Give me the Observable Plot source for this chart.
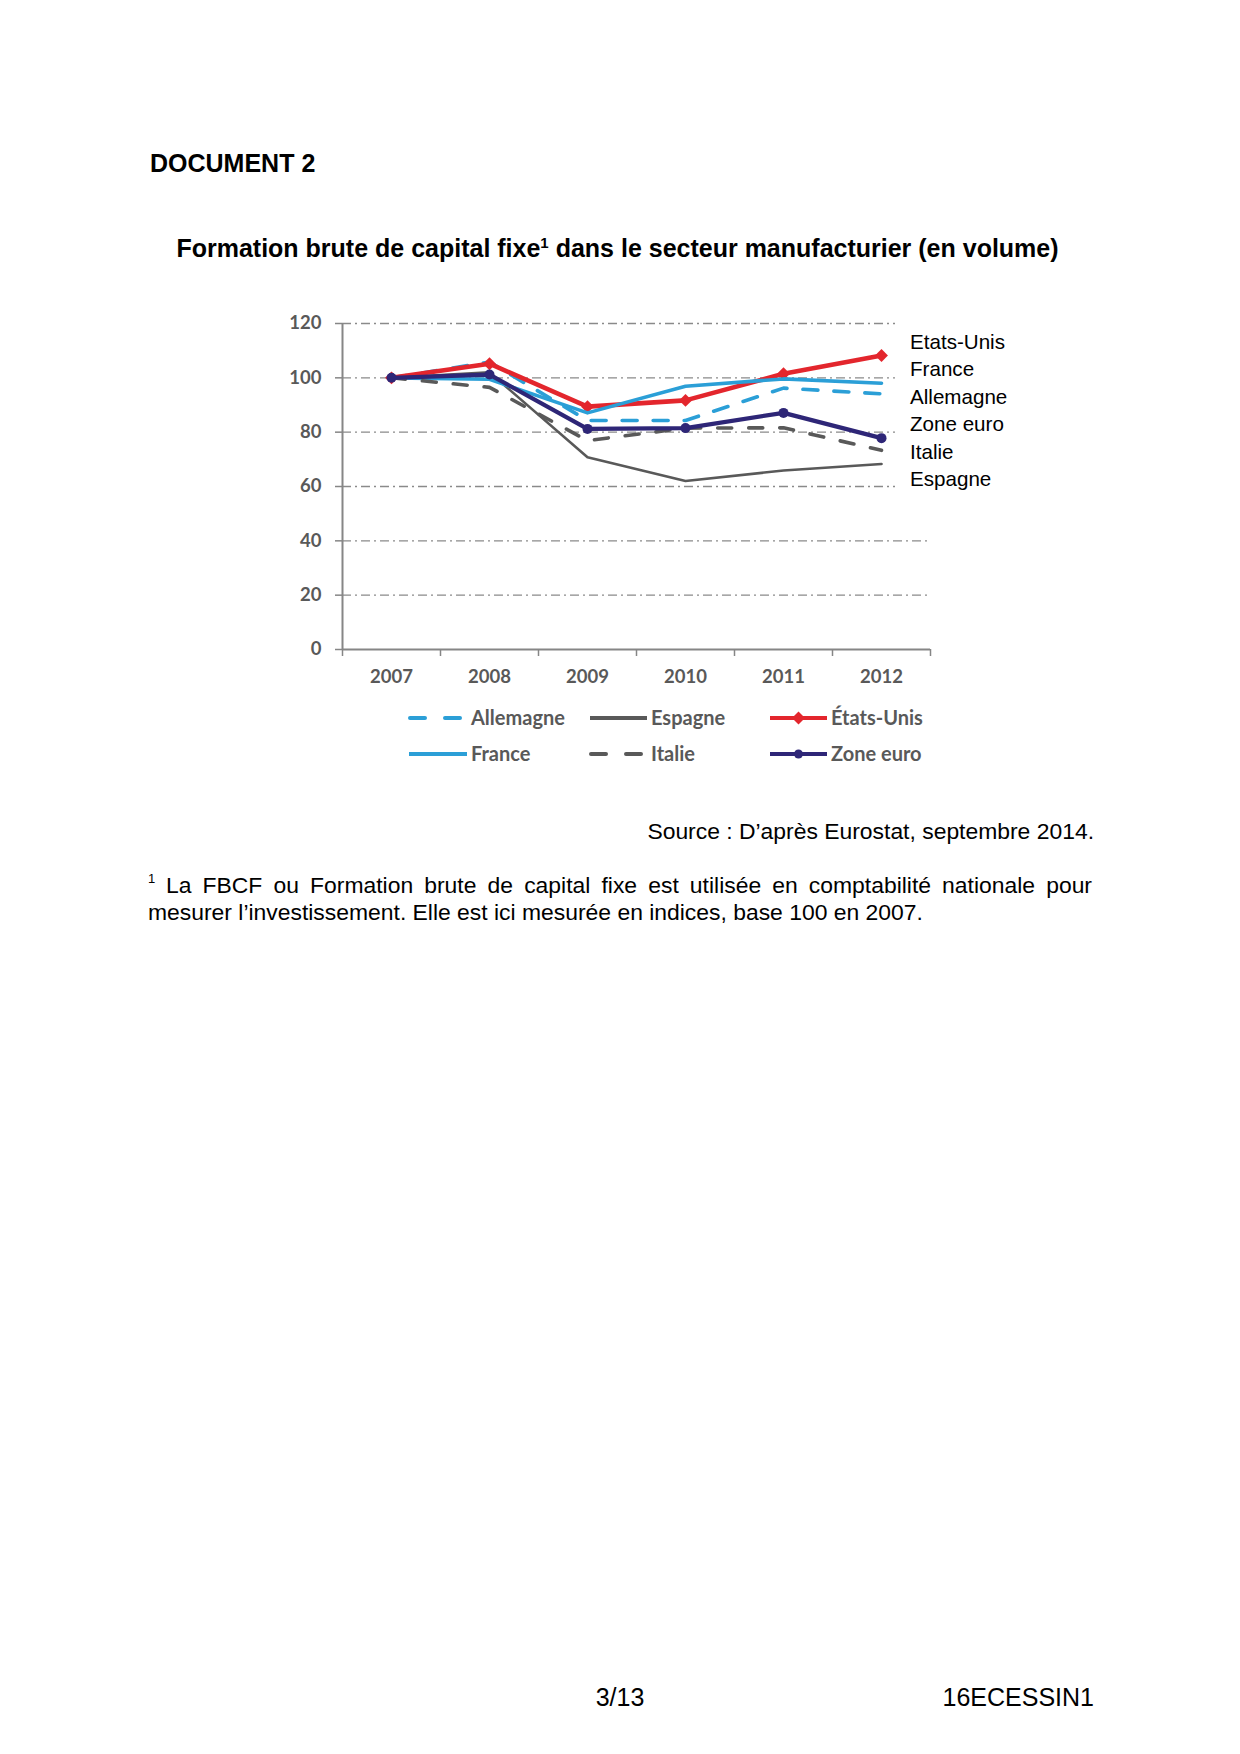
<!DOCTYPE html>
<html>
<head>
<meta charset="utf-8">
<script src="https://cdn.jsdelivr.net/npm/d3@7"></script>
<script src="https://cdn.jsdelivr.net/npm/@observablehq/plot@0.6"></script>
<style>
  html, body { margin: 0; padding: 0; background: #fff; }
  #page { position: relative; width: 1240px; height: 1754px; font-family: "Liberation Sans", Arial, Helvetica, sans-serif; color: #000; overflow: hidden; }
  .abs { position: absolute; white-space: nowrap; line-height: 1; }
  .sup { font-size: 0.6em; position: relative; top: -0.62em; }
  #chart { position: absolute; left: 277px; top: 293px; }
  #labels { position: absolute; left: 895px; top: 320px; width: 140px; height: 175px; background: #fff; padding-left: 15px; box-sizing: border-box; font-size: 20.6px; }
  #labels div { line-height: 27.5px; height: 27.5px; white-space: nowrap; }
  #labels .first { margin-top: 7.5px; }
  .leg { position: absolute; font-family: Lato, "Open Sans", sans-serif; font-weight: 700; font-size: 20px; color: #595959; line-height: 22px; white-space: nowrap; }
  .sw { position: absolute; }
  #foot1 { position: absolute; left: 166px; top: 874.3px; width: 926px; font-size: 22.9px; line-height: 1; white-space: nowrap; text-align: justify; text-align-last: justify; }
  #foot2 { position: absolute; left: 148px; top: 901.2px; font-size: 22.9px; line-height: 1; white-space: nowrap; }
  #fn { position: absolute; left: 148px; top: 872px; font-size: 13px; line-height: 1; }
</style>
</head>
<body>
<div id="page">
  <div class="abs" style="left:150px; top:150.5px; font-size:25px; font-weight:bold;">DOCUMENT 2</div>
  <div class="abs" style="left:0; width:1235px; text-align:center; top:236px; font-size:25px; font-weight:bold;">Formation brute de capital fixe<span class="sup">1</span> dans le secteur manufacturier (en volume)</div>
  <div id="chart"></div>
  <div id="labels"></div>
  <div id="legend"></div>
  <div class="abs" style="right:146px; top:819.5px; font-size:22.9px;">Source : D’après Eurostat, septembre 2014.</div>
  <div id="fn">1</div>
  <div id="foot1">La FBCF ou Formation brute de capital fixe est utilisée en comptabilité nationale pour</div>
  <div id="foot2">mesurer l’investissement. Elle est ici mesurée en indices, base 100 en 2007.</div>
  <div class="abs" style="left:0; width:1240px; text-align:center; top:1684.8px; font-size:25px;">3/13</div>
  <div class="abs" style="right:146px; top:1684.8px; font-size:25px;">16ECESSIN1</div>
</div>
<script>
// ---------- Data ----------
const years = [2007, 2008, 2009, 2010, 2011, 2012];
const yTicks = [0, 20, 40, 60, 80, 100, 120];
const seriesNames = ["Allemagne", "Espagne", "États-Unis", "France", "Italie", "Zone euro"];
const allemagne = [100, 105.8, 84.3, 84.3, 96.2, 94.1];
const espagne   = [100, 102.0, 70.8, 62.0, 65.9, 68.3];
const etatsUnis = [100, 105.2, 89.4, 91.7, 101.5, 108.2];
const france    = [100, 99.5, 87.1, 96.9, 99.6, 98.0];
const italie    = [100, 96.5, 76.9, 81.5, 81.6, 73.3];
const zoneEuro  = [100, 101.2, 81.2, 81.5, 87.1, 77.8];
const rightLabels = ["Etats-Unis", "France", "Allemagne", "Zone euro", "Italie", "Espagne"];
const legendRows = [["Allemagne", "Espagne", "États-Unis"], ["France", "Italie", "Zone euro"]];

// ---------- Styles ----------
const BLUE = "#2b9fd7", RED = "#e3262d", NAVY = "#2e2677", GRAY = "#595959", AXIS = "#868686";
const styles = {
  "Allemagne":  {stroke: BLUE, width: 3.6, dash: "15,16"},
  "Espagne":    {stroke: GRAY, width: 2.6, dash: null},
  "États-Unis": {stroke: RED,  width: 4.6, dash: null, marker: "diamond2", r: 5.8},
  "France":     {stroke: BLUE, width: 3.6, dash: null},
  "Italie":     {stroke: GRAY, width: 3.6, dash: "14,17"},
  "Zone euro":  {stroke: NAVY, width: 4.2, dash: null, marker: "circle", r: 5}
};
const valuesByName = {"Allemagne": allemagne, "Espagne": espagne, "États-Unis": etatsUnis, "France": france, "Italie": italie, "Zone euro": zoneEuro};

const rows = seriesNames.flatMap(n => years.map((y, j) => ({serie: n, year: y, value: valuesByName[n][j]})));
const boundaries = [years[0] - 0.5, ...years.map(y => y + 0.5)];

const marks = [
  Plot.ruleY(yTicks.filter(d => d > 0), {stroke: "#8a8a8a", strokeWidth: 1.3, strokeDasharray: "9,4,2,4"}),
  Plot.ruleX([boundaries[0]], {y1: 0, y2: yTicks[yTicks.length - 1], stroke: AXIS, strokeWidth: 2}),
  Plot.ruleY([0], {x1: boundaries[0], x2: boundaries[boundaries.length - 1], stroke: AXIS, strokeWidth: 2}),
  Plot.axisY({ticks: yTicks, tickSize: 7, tickPadding: 14, stroke: AXIS, strokeWidth: 1.5, fill: GRAY, label: null}),
  Plot.axisX({ticks: boundaries, tickSize: 7, tickFormat: () => "", stroke: AXIS, strokeWidth: 1.5, label: null}),
  Plot.axisX({ticks: years, tickSize: 0, tickPadding: 20, tickFormat: d => String(d), fill: GRAY, label: null})
];
for (const n of seriesNames) {
  const s = styles[n];
  const data = rows.filter(d => d.serie === n);
  marks.push(Plot.line(data, {x: "year", y: "value", stroke: s.stroke, strokeWidth: s.width,
    strokeDasharray: s.dash || undefined, strokeLinecap: "round", strokeLinejoin: "round"}));
  if (s.marker) marks.push(Plot.dot(data, {x: "year", y: "value", symbol: s.marker, r: s.r, fill: s.stroke, stroke: "none"}));
}

const chart = Plot.plot({
  width: 690, height: 407,
  marginLeft: 65, marginRight: 37, marginTop: 30, marginBottom: 51,
  x: {type: "linear", domain: [boundaries[0], boundaries[boundaries.length - 1]], label: null},
  y: {domain: [0, 120], label: null},
  style: {fontFamily: "Lato, 'Open Sans', sans-serif", fontWeight: 700, fontSize: "18.5px", color: GRAY, background: "transparent", overflow: "visible"},
  marks
});
document.getElementById("chart").appendChild(chart);

// Right-hand text box
const lab = document.getElementById("labels");
rightLabels.forEach((t, i) => {
  const d = document.createElement("div");
  d.textContent = t;
  if (i === 0) d.className = "first";
  lab.appendChild(d);
});

// Legend
const legend = document.getElementById("legend");
const colSwatch = [408, 589, 769], colText = [471, 651, 831], rowY = [718, 754];
legendRows.forEach((row, ri) => row.forEach((n, ci) => {
  const s = styles[n];
  const w = colText[ci] - colSwatch[ci] - 3;
  const svgNS = "http://www.w3.org/2000/svg";
  const svg = document.createElementNS(svgNS, "svg");
  svg.setAttribute("width", w); svg.setAttribute("height", 16);
  svg.setAttribute("class", "sw");
  svg.style.left = colSwatch[ci] + "px"; svg.style.top = (rowY[ri] - 8) + "px";
  const line = document.createElementNS(svgNS, "line");
  if (s.dash) {
    line.setAttribute("x1", 2); line.setAttribute("x2", 52);
    line.setAttribute("stroke-dasharray", "15,20");
  } else {
    line.setAttribute("x1", 1); line.setAttribute("x2", w - 1);
  }
  line.setAttribute("y1", 8); line.setAttribute("y2", 8);
  line.setAttribute("stroke", s.stroke); line.setAttribute("stroke-width", s.dash ? 4 : 3.8);
  line.setAttribute("stroke-linecap", s.dash ? "round" : "butt");
  svg.appendChild(line);
  if (s.marker === "diamond2") {
    const p = document.createElementNS(svgNS, "path");
    const cx = w / 2, h = 6.5;
    p.setAttribute("d", `M${cx},${8 - h}L${cx + h},8L${cx},${8 + h}L${cx - h},8Z`);
    p.setAttribute("fill", s.stroke);
    svg.appendChild(p);
  } else if (s.marker === "circle") {
    const c = document.createElementNS(svgNS, "circle");
    c.setAttribute("cx", w / 2); c.setAttribute("cy", 8); c.setAttribute("r", 4.5);
    c.setAttribute("fill", s.stroke);
    svg.appendChild(c);
  }
  legend.appendChild(svg);
  const t = document.createElement("div");
  t.className = "leg"; t.textContent = n;
  t.style.left = colText[ci] + "px"; t.style.top = (rowY[ri] - 12) + "px";
  legend.appendChild(t);
}));
</script>
</body>
</html>
